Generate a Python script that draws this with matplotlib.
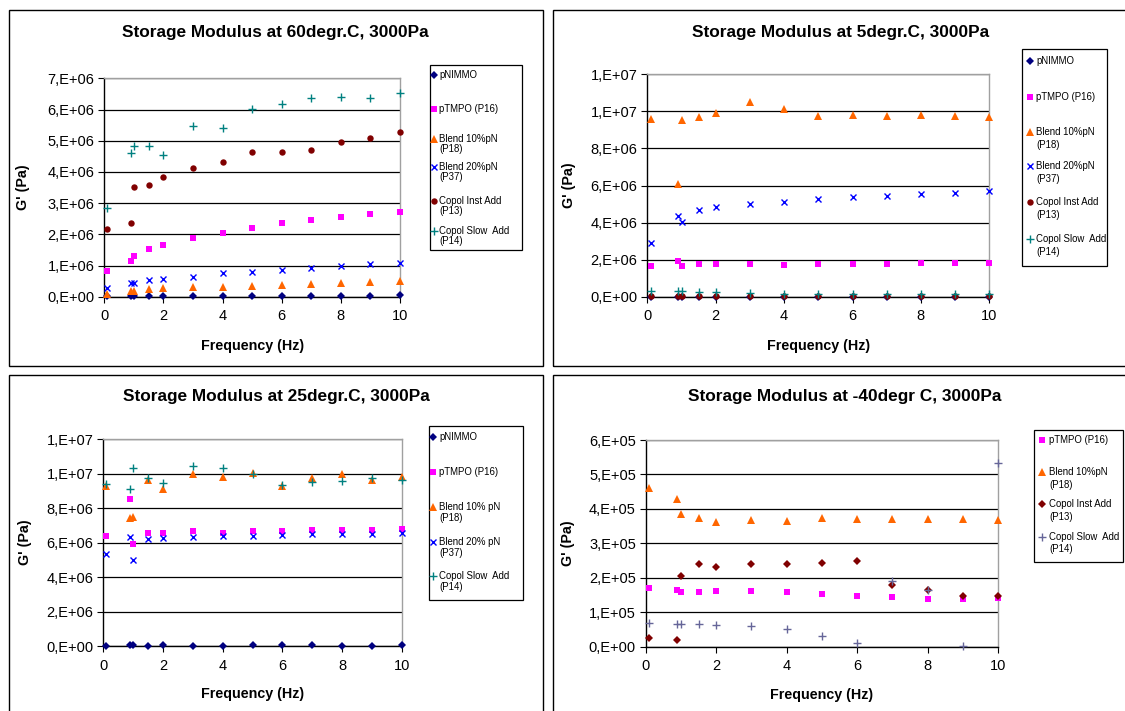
import matplotlib
matplotlib.use("Agg")
import matplotlib.pyplot as plt
from matplotlib.patches import Rectangle
from matplotlib.lines import Line2D

plt.rcParams['font.family'] = ['Liberation Sans', 'DejaVu Sans']

W, H = 1125, 711

# ---------------- data ----------------
FREQ = [0.1, 0.9, 1.0, 1.5, 2, 3, 4, 5, 6, 7, 8, 9, 10]

# 60 degr C (values in 1E6 Pa)
pnimmo_60 = [0.01, 0.02, 0.02, 0.02, 0.02, 0.02, 0.02, 0.02, 0.02, 0.02, 0.02, 0.02, 0.05]
ptmpo_60 = [0.83, 1.15, 1.30, 1.52, 1.66, 1.87, 2.05, 2.19, 2.35, 2.46, 2.54, 2.64, 2.73]
blend10_60 = [0.09, 0.19, 0.19, 0.24, 0.27, 0.30, 0.32, 0.35, 0.38, 0.41, 0.44, 0.48, 0.50]
blend20_60 = [0.29, 0.44, 0.44, 0.53, 0.56, 0.64, 0.75, 0.80, 0.85, 0.93, 0.99, 1.04, 1.09]
inst_60 = [2.16, 2.36, 3.53, 3.58, 3.83, 4.11, 4.32, 4.64, 4.64, 4.70, 4.97, 5.09, 5.27]
slow_60 = [2.85, 4.62, 4.83, 4.83, 4.53, 5.48, 5.40, 6.02, 6.18, 6.36, 6.39, 6.36, 6.52]

# 5 degr C (values in 1E6 Pa)
pnimmo_5 = [0.01, 0.01, 0.01, 0.01, 0.01, 0.01, 0.01, 0.01, 0.01, 0.01, 0.01, 0.01, 0.01]
ptmpo_5 = [1.67, 1.92, 1.67, 1.76, 1.76, 1.76, 1.71, 1.76, 1.76, 1.76, 1.82, 1.82, 1.82]
blend10_5 = [9.59, 6.10, 9.53, 9.69, 9.93, 10.52, 10.13, 9.73, 9.78, 9.73, 9.78, 9.73, 9.68]
blend20_5 = [2.88, 4.37, 4.03, 4.68, 4.86, 5.02, 5.11, 5.25, 5.38, 5.45, 5.52, 5.61, 5.70]
inst_5 = [0.02, 0.02, 0.02, 0.02, 0.02, 0.02, 0.02, 0.02, 0.02, 0.02, 0.02, 0.02, 0.02]
slow_5 = [0.32, 0.32, 0.32, 0.27, 0.27, 0.18, 0.13, 0.13, 0.13, 0.13, 0.13, 0.13, 0.13]

# 25 degr C (values in 1E6 Pa)
pnimmo_25 = [0.00, 0.08, 0.08, 0.02, 0.08, 0.02, 0.02, 0.08, 0.08, 0.08, 0.02, 0.02, 0.08]
ptmpo_25 = [6.41, 8.52, 5.92, 6.58, 6.58, 6.66, 6.58, 6.66, 6.66, 6.72, 6.72, 6.72, 6.77]
blend10_25 = [9.31, 7.41, 7.51, 9.64, 9.12, 9.99, 9.79, 10.02, 9.31, 9.73, 9.99, 9.64, 9.79]
blend20_25 = [5.32, 6.35, 4.99, 6.23, 6.29, 6.35, 6.41, 6.41, 6.44, 6.50, 6.50, 6.50, 6.54]
slow_25 = [9.41, 9.12, 10.35, 9.73, 9.46, 10.47, 10.35, 9.99, 9.35, 9.52, 9.58, 9.77, 9.64]

# -40 degr C (values in 1E5 Pa)
ptmpo_m40 = [1.69, 1.65, 1.58, 1.60, 1.63, 1.63, 1.60, 1.52, 1.46, 1.43, 1.38, 1.38, 1.41]
blend10_m40 = [4.60, 4.30, 3.85, 3.73, 3.61, 3.67, 3.65, 3.73, 3.70, 3.70, 3.70, 3.70, 3.68]
inst_m40 = [0.24, 0.18, 2.06, 2.39, 2.31, 2.41, 2.39, 2.44, 2.50, 1.80, 1.64, 1.47, 1.48]
slow_m40 = [0.70, 0.67, 0.65, 0.65, 0.62, 0.61, 0.50, 0.32, 0.11, 1.92, 1.64, 0.02, 5.33]

TITLES = ["Storage Modulus at 60degr.C, 3000Pa",
          "Storage Modulus at 5degr.C, 3000Pa",
          "Storage Modulus at 25degr.C, 3000Pa",
          "Storage Modulus at -40degr C, 3000Pa"]

XTICKS = [0, 2, 4, 6, 8, 10]
YTICKS_60 = [0, 1e6, 2e6, 3e6, 4e6, 5e6, 6e6, 7e6]
YTICKLABELS_60 = ["0,E+00", "1,E+06", "2,E+06", "3,E+06", "4,E+06", "5,E+06", "6,E+06", "7,E+06"]
YTICKS_E7 = [0, 2e6, 4e6, 6e6, 8e6, 10e6, 12e6]
YTICKLABELS_E7 = ["0,E+00", "2,E+06", "4,E+06", "6,E+06", "8,E+06", "1,E+07", "1,E+07"]
YTICKS_M40 = [0, 1e5, 2e5, 3e5, 4e5, 5e5, 6e5]
YTICKLABELS_M40 = ["0,E+00", "1,E+05", "2,E+05", "3,E+05", "4,E+05", "5,E+05", "6,E+05"]

# ---------------- styles ----------------
STY = {
    'pnimmo': dict(marker='D', color='#000080', ms=4.0, mew=0),
    'ptmpo': dict(marker='s', color='#FF00FF', ms=4.3, mew=0),
    'blend10': dict(marker='^', color='#FF6600', ms=5.5, mew=0),
    'blend20': dict(marker='x', color='#0000FF', ms=5.0, mew=1.0),
    'inst': dict(marker='o', color='#800000', ms=4.6, mew=0),
    'inst_d': dict(marker='D', color='#800000', ms=4.3, mew=0),
    'slow': dict(marker='+', color='#008080', ms=6.0, mew=1.0),
    'slow_s': dict(marker='+', color='#666699', ms=6.0, mew=1.0),
}

fig = plt.figure(figsize=(W / 100, H / 100), dpi=100)


def fx(x):
    return x / W


def fy(y):
    return 1 - y / H


def box(x0, y0, x1, y1, lw=1.0):
    fig.add_artist(Rectangle((fx(x0), fy(y1)), fx(x1) - fx(x0), fy(y0) - fy(y1),
                             transform=fig.transFigure, fill=False, ec='black', lw=lw,
                             clip_on=False))


def make_axes(x0, y0, x1, y1):
    ax = fig.add_axes([fx(x0), fy(y1), fx(x1) - fx(x0), fy(y0) - fy(y1)])
    ax.set_facecolor('white')
    return ax


def style_axes(ax, yticks, ylabels, ymax, xl_y, yl_x, title, tcx, tcy):
    ax.set_xlim(0, 10)
    ax.set_ylim(0, ymax)
    ax.set_xticks(XTICKS)
    ax.set_xticklabels([str(t) for t in XTICKS])
    ax.set_yticks(yticks)
    ax.set_yticklabels(ylabels)
    ax.tick_params(axis='both', direction='out', length=4, width=0.8, labelsize=10.5,
                   color='black')
    ax.tick_params(axis='x', pad=5)
    ax.tick_params(axis='y', pad=3)
    ax.grid(axis='y', color='black', lw=0.9)
    ax.set_axisbelow(True)
    for s in ['left', 'bottom']:
        ax.spines[s].set_color('black')
        ax.spines[s].set_lw(1.0)
    for s in ['right', 'top']:
        ax.spines[s].set_color('#A0A0A0')
        ax.spines[s].set_lw(1.0)
    ax.set_xlabel("Frequency (Hz)", fontsize=10.3, fontweight='bold')
    ax.set_ylabel("G' (Pa)", fontsize=10.3, fontweight='bold')
    ax.xaxis.set_label_coords(0.5, xl_y)
    ax.yaxis.set_label_coords(yl_x, 0.5)
    fig.text(fx(tcx), fy(tcy), title, ha='center', va='center', fontsize=12.4,
             fontweight='bold')


def plot_series(ax, series, scale):
    for key, vals, _ in series:
        st = STY[key]
        ax.plot(FREQ, [v * scale for v in vals], ls='none', marker=st['marker'],
                color=st['color'], ms=st['ms'], mew=st['mew'], clip_on=False, zorder=3)


def legend(series, bx0, by0, bx1, by1, ys, mx, tx, dl):
    box(bx0, by0, bx1, by1, lw=0.9)
    for (key, _, label), y in zip(series, ys):
        st = STY[key]
        fig.add_artist(Line2D([fx(mx)], [fy(y)], transform=fig.transFigure,
                              ls='none', marker=st['marker'], color=st['color'],
                              ms=st['ms'], mew=st['mew']))
        for i, line in enumerate(label.split("\n")):
            fig.text(fx(tx), fy(y + i * dl), line, ha='left', va='center', fontsize=6.9)


# panel frames
box(9, 10, 543, 366)
box(553, 10, 1135, 366)
box(9, 375, 543, 720)
box(553, 375, 1135, 720)

# ---------- top-left: 60 degr C ----------
s60 = [('pnimmo', pnimmo_60, "pNIMMO"),
       ('ptmpo', ptmpo_60, "pTMPO (P16)"),
       ('blend10', blend10_60, "Blend 10%pN\n(P18)"),
       ('blend20', blend20_60, "Blend 20%pN\n(P37)"),
       ('inst', inst_60, "Copol Inst Add\n(P13)"),
       ('slow', slow_60, "Copol Slow  Add\n(P14)")]
ax1 = make_axes(104.3, 78.3, 400, 296.7)
plot_series(ax1, s60, 1e6)
style_axes(ax1, YTICKS_60, YTICKLABELS_60, 7e6, -0.195, -0.251, TITLES[0], 275, 32)
legend(s60, 430, 65, 522, 250, [75, 109, 139, 167, 201, 231], 434, 439, 10.5)

# ---------- top-right: 5 degr C ----------
s5 = [('pnimmo', pnimmo_5, "pNIMMO"),
      ('ptmpo', ptmpo_5, "pTMPO (P16)"),
      ('blend10', blend10_5, "Blend 10%pN\n(P18)"),
      ('blend20', blend20_5, "Blend 20%pN\n(P37)"),
      ('inst', inst_5, "Copol Inst Add\n(P13)"),
      ('slow', slow_5, "Copol Slow  Add\n(P14)")]
ax2 = make_axes(647.3, 74.3, 989.3, 296.7)
plot_series(ax2, s5, 1e6)
style_axes(ax2, YTICKS_E7, YTICKLABELS_E7, 12e6, -0.192, -0.209, TITLES[1], 841, 32)
legend(s5, 1022, 49, 1107, 266, [61, 97, 132, 166, 202, 239], 1030, 1036, 13.5)

# ---------- bottom-left: 25 degr C ----------
s25 = [('pnimmo', pnimmo_25, "pNIMMO"),
       ('ptmpo', ptmpo_25, "pTMPO (P16)"),
       ('blend10', blend10_25, "Blend 10% pN\n(P18)"),
       ('blend20', blend20_25, "Blend 20% pN\n(P37)"),
       ('slow', slow_25, "Copol Slow  Add\n(P14)")]
ax3 = make_axes(103.3, 439.3, 401.7, 646)
plot_series(ax3, s25, 1e6)
style_axes(ax3, YTICKS_E7, YTICKLABELS_E7, 12e6, -0.2, -0.240, TITLES[2], 276, 397)
legend(s25, 429, 426, 523, 600, [437, 472, 507, 542, 576], 433, 439, 11)

# ---------- bottom-right: -40 degr C ----------
sm40 = [('ptmpo', ptmpo_m40, "pTMPO (P16)"),
        ('blend10', blend10_m40, "Blend 10%pN\n(P18)"),
        ('inst_d', inst_m40, "Copol Inst Add\n(P13)"),
        ('slow_s', slow_m40, "Copol Slow  Add\n(P14)")]
ax4 = make_axes(645.7, 440, 998.2, 646.7)
plot_series(ax4, sm40, 1e5)
style_axes(ax4, YTICKS_M40, YTICKLABELS_M40, 6e5, -0.2, -0.2006, TITLES[3], 845, 397)
legend(sm40, 1034, 430, 1123, 562, [440, 472, 504, 537], 1042, 1049, 12.5)

fig.savefig("out.png", dpi=100, facecolor='white')
